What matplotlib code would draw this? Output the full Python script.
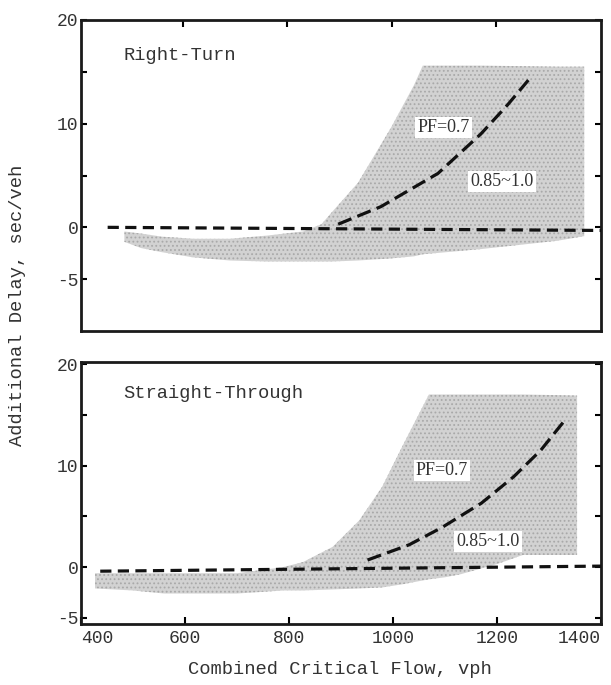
import matplotlib
matplotlib.use("Agg")
import matplotlib.pyplot as plt

# ---------------- data ----------------
# Right-Turn panel: shaded envelope (upper / lower bounds)
rt_x  = [488, 520, 560, 620, 690, 760, 830, 865, 884, 935, 998, 1042, 1059, 1170, 1316, 1368]
rt_hi = [-0.4, -0.6, -0.9, -1.1, -1.1, -0.8, -0.4, 0.3, 1.4, 4.3, 9.6, 13.7, 15.6, 15.6, 15.5, 15.5]
rt_lo = [-1.4, -2.0, -2.4, -2.9, -3.2, -3.3, -3.3, -3.3, -3.3, -3.2, -3.0, -2.8, -2.6, -2.1, -1.3, -0.85]
rt_pf_x = [897, 979, 1088, 1170, 1221, 1261]
rt_pf_y = [0.3, 2.0, 5.2, 9.0, 11.8, 14.2]
rt_base_x = [456, 1400]
rt_base_y = [0.0, -0.3]

# Straight-Through panel
st_x  = [427, 500, 560, 700, 789, 827, 884, 935, 979, 1017, 1069, 1100, 1130, 1200, 1250, 1354]
st_hi = [-0.6, -0.6, -0.6, -0.6, 0.0, 0.5, 2.0, 4.6, 7.9, 11.8, 17.0, 17.0, 17.0, 17.0, 17.0, 16.9]
st_lo = [-2.1, -2.3, -2.6, -2.6, -2.3, -2.3, -2.2, -2.1, -2.0, -1.7, -1.2, -1.0, -0.7, 0.3, 1.2, 1.2]
st_pf_x = [951, 1031, 1094, 1170, 1232, 1284, 1331]
st_pf_y = [0.7, 2.2, 3.9, 6.3, 8.9, 11.5, 14.5]
st_base_x = [437, 1400]
st_base_y = [-0.4, 0.1]

x_ticks = [400, 600, 800, 1000, 1200, 1400]
y_ticks = [-5, 0, 5, 10, 15, 20]
y_labels = ["-5", "0", "", "10", "", "20"]

# ---------------- figure ----------------
MONO = "Liberation Mono"
SERIF = "Liberation Serif"
TXT = "#333333"
plt.rcParams["hatch.linewidth"] = 0.8

fig = plt.figure(figsize=(6.11, 6.85), dpi=100)
W, H = 611, 685
def rect(l, t, r, b):
    return [l / W, 1 - b / H, (r - l) / W, (b - t) / H]

ax1 = fig.add_axes(rect(81, 20, 601, 331))
ax2 = fig.add_axes(rect(81, 362, 601, 624))

def style(ax, ylim, show_x):
    ax.set_xlim(405, 1400)
    ax.set_ylim(*ylim)
    for s in ax.spines.values():
        s.set_linewidth(2.0)
        s.set_color("#1a1a1a")
    ax.set_yticks(y_ticks)
    ax.set_yticklabels(y_labels, fontfamily=MONO, fontsize=13, color=TXT)
    ax.tick_params(axis="y", direction="in", length=4, width=1.5, pad=2,
                   right=True, left=True)
    ax.tick_params(axis="x", direction="in", length=5, width=1.5)
    if show_x:
        ax.set_xticks(x_ticks)
        ax.set_xticklabels([str(v) for v in x_ticks], fontfamily=MONO,
                           fontsize=13, color=TXT)
        labs = ax.get_xticklabels()
        labs[0].set_ha("left")
        labs[-1].set_ha("right")
        ax.tick_params(axis="x", bottom=True, top=False, pad=4)
    else:
        ax.set_xticks(x_ticks[1:-1])
        ax.tick_params(axis="x", bottom=False, top=True, labelbottom=False)

def panel(ax, x, hi, lo, pfx, pfy, bx, by, title, title_y, pf_pos, rng_pos):
    ax.fill_between(x, lo, hi, facecolor="#d2d2d2", edgecolor="#a9a9a9",
                    hatch="....", linewidth=0, zorder=1)
    ax.plot(bx, by, color="#111111", lw=2.3, dashes=(3.5, 2.0), zorder=3)
    ax.plot(pfx, pfy, color="#111111", lw=2.3, dashes=(4.5, 2.0), zorder=3)
    ax.text(0.081, title_y, title,
            transform=ax.transAxes, fontfamily=MONO, fontsize=13.5,
            color=TXT, va="center", ha="left")
    bbox = dict(facecolor="white", edgecolor="none", pad=1.5)
    ax.text(pf_pos[0], pf_pos[1], "PF=0.7", fontfamily=SERIF, fontsize=13,
            ha="center", va="center", bbox=bbox, zorder=4, color=TXT)
    ax.text(rng_pos[0], rng_pos[1], "0.85~1.0", fontfamily=SERIF, fontsize=13,
            ha="center", va="center", bbox=bbox, zorder=4, color=TXT)

panel(ax1, rt_x, rt_hi, rt_lo, rt_pf_x, rt_pf_y, rt_base_x, rt_base_y,
      "Right-Turn", 0.887, (1099, 9.6), (1211, 4.4))
panel(ax2, st_x, st_hi, st_lo, st_pf_x, st_pf_y, st_base_x, st_base_y,
      "Straight-Through", 0.88, (1094, 9.5), (1183, 2.5))

style(ax1, (-10, 20), False)
style(ax2, (-5.6, 20.2), True)

fig.text(18 / W, 1 - 305 / H, "Additional Delay, sec/veh", rotation=90,
         fontfamily=MONO, fontsize=13.5, color=TXT, ha="center", va="center")
fig.text(340 / W, 1 - 670 / H, "Combined Critical Flow, vph",
         fontfamily=MONO, fontsize=13.5, color=TXT, ha="center", va="center")

fig.savefig("out.png", dpi=100)
